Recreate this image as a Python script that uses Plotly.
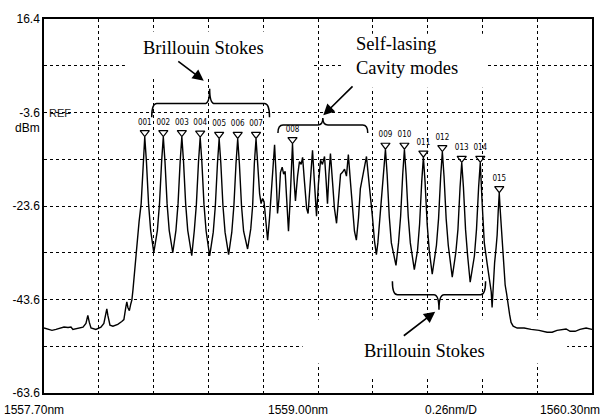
import plotly.graph_objects as go

# ---------------- data ----------------
wavelength_nm = [
    1557.700, 1557.719, 1557.738, 1557.757, 1557.776, 1557.795, 1557.814, 1557.828, 1557.837, 1557.861,
    1557.885, 1557.899, 1557.908, 1557.915, 1557.923, 1557.946, 1557.970, 1557.984, 1557.994, 1557.998,
    1558.003, 1558.013, 1558.027, 1558.050, 1558.069, 1558.079, 1558.088, 1558.093, 1558.098, 1558.105,
    1558.112, 1558.117, 1558.122, 1558.129, 1558.136, 1558.145, 1558.151, 1558.161, 1558.170, 1558.178,
    1558.186, 1558.196, 1558.206, 1558.221, 1558.238, 1558.248, 1558.258, 1558.266, 1558.274, 1558.284,
    1558.294, 1558.311, 1558.326, 1558.336, 1558.346, 1558.354, 1558.362, 1558.372, 1558.382, 1558.401,
    1558.413, 1558.423, 1558.433, 1558.441, 1558.449, 1558.459, 1558.469, 1558.486, 1558.503, 1558.513,
    1558.523, 1558.531, 1558.539, 1558.549, 1558.559, 1558.576, 1558.591, 1558.601, 1558.611, 1558.619,
    1558.627, 1558.637, 1558.647, 1558.666, 1558.681, 1558.690, 1558.698, 1558.706, 1558.714, 1558.723,
    1558.730, 1558.737, 1558.744, 1558.751, 1558.761, 1558.770, 1558.780, 1558.789, 1558.794, 1558.801,
    1558.808, 1558.815, 1558.822, 1558.830, 1558.837, 1558.844, 1558.851, 1558.860, 1558.867, 1558.875,
    1558.879, 1558.886, 1558.893, 1558.903, 1558.912, 1558.920, 1558.927, 1558.936, 1558.946, 1558.953,
    1558.962, 1558.974, 1558.983, 1558.993, 1559.002, 1559.012, 1559.021, 1559.031, 1559.038, 1559.045,
    1559.052, 1559.059, 1559.069, 1559.078, 1559.088, 1559.097, 1559.107, 1559.116, 1559.126, 1559.135,
    1559.144, 1559.154, 1559.163, 1559.173, 1559.182, 1559.192, 1559.201, 1559.211, 1559.220, 1559.230,
    1559.239, 1559.249, 1559.258, 1559.268, 1559.277, 1559.284, 1559.294, 1559.303, 1559.313, 1559.320,
    1559.328, 1559.338, 1559.348, 1559.370, 1559.382, 1559.392, 1559.402, 1559.410, 1559.418, 1559.428,
    1559.438, 1559.457, 1559.472, 1559.482, 1559.492, 1559.500, 1559.508, 1559.518, 1559.528, 1559.542,
    1559.562, 1559.572, 1559.582, 1559.590, 1559.598, 1559.608, 1559.618, 1559.637, 1559.654, 1559.664,
    1559.674, 1559.682, 1559.690, 1559.700, 1559.710, 1559.722, 1559.742, 1559.752, 1559.762, 1559.770,
    1559.779, 1559.789, 1559.803, 1559.812, 1559.822, 1559.826, 1559.831, 1559.838, 1559.845, 1559.850,
    1559.855, 1559.860, 1559.864, 1559.872, 1559.879, 1559.888, 1559.895, 1559.902, 1559.909, 1559.916,
    1559.926, 1559.945, 1559.978, 1560.011, 1560.049, 1560.087, 1560.111, 1560.134, 1560.158, 1560.177,
    1560.196, 1560.220, 1560.243, 1560.272, 1560.300,
]
power_dbm = [
    -49.7, -50.0, -50.2, -50.0, -49.7, -49.5, -49.6, -49.5, -50.0, -49.7,
    -49.5, -48.7, -47.0, -48.5, -49.7, -50.0, -49.5, -48.7, -46.2, -45.6,
    -47.0, -49.1, -49.3, -48.9, -48.3, -47.9, -45.3, -44.1, -45.3, -46.0,
    -44.5, -43.7, -41.6, -37.8, -34.6, -29.8, -27.0, -23.1, -14.1, -8.8,
    -14.1, -23.1, -28.8, -33.6, -28.8, -23.1, -14.1, -8.8, -14.1, -23.1,
    -28.8, -33.6, -28.8, -23.1, -14.1, -8.8, -14.1, -23.1, -28.8, -34.2,
    -28.9, -23.2, -14.2, -8.9, -14.2, -23.2, -28.9, -34.3, -29.2, -23.5,
    -14.5, -9.2, -14.5, -23.5, -29.2, -34.0, -29.2, -23.5, -14.5, -9.2,
    -14.5, -23.5, -29.0, -32.8, -28.5, -23.5, -14.5, -9.2, -14.7, -21.0,
    -23.1, -22.0, -22.7, -26.2, -30.9, -26.2, -18.9, -12.6, -10.5, -16.8,
    -25.2, -22.0, -16.4, -15.3, -16.8, -16.2, -22.0, -29.0, -23.1, -14.7,
    -10.3, -17.8, -22.5, -17.2, -14.1, -14.7, -13.2, -18.5, -24.1, -25.2,
    -18.9, -11.7, -18.5, -25.8, -18.9, -13.8, -14.7, -13.0, -17.8, -23.1,
    -16.8, -12.4, -18.5, -24.1, -27.3, -22.0, -16.8, -16.4, -15.7, -17.2,
    -12.6, -18.5, -24.1, -29.0, -30.9, -26.2, -19.9, -17.2, -15.1, -13.0,
    -17.2, -21.4, -25.8, -31.1, -34.0, -31.5, -26.2, -21.0, -15.7, -11.5,
    -16.8, -25.8, -31.5, -36.3, -31.5, -25.8, -16.8, -11.5, -16.8, -25.8,
    -31.5, -37.2, -33.2, -27.5, -18.5, -13.2, -18.5, -27.5, -33.2, -38.2,
    -32.0, -26.3, -17.3, -12.0, -17.3, -26.3, -32.0, -38.8, -33.5, -28.6,
    -19.6, -14.3, -19.6, -28.6, -34.3, -39.9, -34.3, -28.6, -19.6, -14.3,
    -23.1, -31.5, -36.1, -38.8, -42.0, -45.3, -40.9, -35.7, -32.5, -29.8,
    -24.8, -20.8, -24.1, -29.4, -35.3, -40.5, -42.4, -44.9, -46.8, -48.5,
    -49.3, -49.7, -49.7, -50.0, -50.2, -50.6, -50.6, -50.2, -50.0, -49.9,
    -50.4, -50.4, -50.0, -49.7, -50.0,
]

marker_labels = ["001", "002", "003", "004", "005", "006", "007", "008",
                 "009", "010", "011", "012", "013", "014", "015"]
marker_wl = [1558.178, 1558.266, 1558.354, 1558.441, 1558.531, 1558.619, 1558.706, 1558.879,
             1559.320, 1559.410, 1559.500, 1559.590, 1559.682, 1559.770, 1559.860]
marker_db = [-8.8, -8.8, -8.8, -8.9, -9.2, -9.2, -9.2, -10.3,
             -11.5, -11.5, -13.2, -12.0, -14.3, -14.3, -20.8]

x_start, x_stop, x_div = 1557.70, 1560.30, 0.26
y_top, y_bottom, y_div = 16.4, -63.6, 10.0
y_tick_text = ["16.4", "", "-3.6", "", "-23.6", "", "-43.6", "", "-63.6"]
x_label_text = ["1557.70nm", "1559.00nm", "0.26nm/D", "1560.30nm"]

# ---------------- figure ----------------
x_grid = [round(x_start + i * x_div, 3) for i in range(11)]
y_grid = [round(y_top - i * y_div, 1) for i in range(9)]

fig = go.Figure()
fig.add_trace(go.Scatter(x=wavelength_nm, y=power_dbm, mode="lines",
                         line=dict(color="black", width=1.4), hoverinfo="skip"))
tri_off = 0.9
fig.add_trace(go.Scatter(
    x=marker_wl, y=[d + tri_off for d in marker_db], mode="markers+text",
    text=marker_labels, textposition="top center",
    textfont=dict(size=8, color="black", family="DejaVu Sans Condensed, Liberation Sans Narrow, sans-serif"),
    marker=dict(symbol="triangle-down-open", size=8, color="black", line=dict(width=1.2)),
    hoverinfo="skip", cliponaxis=False))

SERIF = "Liberation Serif, Times New Roman, serif"
SANS = "Liberation Sans, Arial, sans-serif"

def brace(x0, x1, xm, y_end, y_bar, y_tip, r=0.024):
    return (f"M {x0},{y_end} Q {x0},{y_bar} {x0 + r},{y_bar} L {xm - r},{y_bar} "
            f"Q {xm},{y_bar} {xm},{y_tip} Q {xm},{y_bar} {xm + r},{y_bar} "
            f"L {x1 - r},{y_bar} Q {x1},{y_bar} {x1},{y_end}")

shapes = []
# white patches hiding the grid behind the pasted labels
for (xa, xb, ya, yb) in [(1558.084, 1558.974, 13.7, 4.2),
                         (1559.111, 1559.803, 13.25, 1.7),
                         (1558.927, 1560.182, -47.9, -57.3),
                         (1559.126, 1559.883, -47.9, -60.5)]:
    shapes.append(dict(type="rect", xref="x", yref="y", x0=xa, x1=xb, y0=ya, y1=yb,
                       fillcolor="white", line=dict(width=0), layer="between"))
for b in [(1558.211, 1558.770, 1558.486, -4.6, -1.7, 1.5),
          (1558.810, 1559.236, 1559.023, -8.0, -6.3, -4.8),
          (1559.353, 1559.795, 1559.574, -39.7, -42.6, -45.8)]:
    shapes.append(dict(type="path", xref="x", yref="y", path=brace(*b),
                       line=dict(color="black", width=1.5), layer="above"))

ann = []
# text labels
ann.append(dict(x=1558.458, y=10.1, xref="x", yref="y", text="Brillouin Stokes", showarrow=False,
                font=dict(family=SERIF, size=18.5, color="black"), xanchor="center", yanchor="middle"))
ann.append(dict(x=1559.171, y=8.5, xref="x", yref="y", text="Self-lasing<br>Cavity modes", showarrow=False,
                font=dict(family=SERIF, size=18.5, color="black"), xanchor="left", yanchor="middle",
                align="left"))
ann.append(dict(x=1559.504, y=-54.6, xref="x", yref="y", text="Brillouin Stokes", showarrow=False,
                font=dict(family=SERIF, size=18.5, color="black"), xanchor="center", yanchor="middle"))
# arrows
for (tx, ty, sx, sy) in [(1558.458, 3.2, 1558.330, 7.6),
                         (1559.025, -4.2, 1559.171, 2.3),
                         (1559.556, -46.2, 1559.400, -51.6)]:
    ann.append(dict(x=tx, y=ty, ax=sx, ay=sy, xref="x", yref="y", axref="x", ayref="y",
                    text="", showarrow=True, arrowhead=2, arrowsize=1.4, arrowwidth=1.6,
                    arrowcolor="black", standoff=0))
# instrument texts
ann.append(dict(x=0.005, y=-3.6, xref="paper", yref="y", text="REF", showarrow=False,
                font=dict(family=SANS, size=11, color="#222"), xanchor="left", yanchor="middle"))
ann.append(dict(x=-0.004, y=-6.9, xref="paper", yref="y", text="dBm", showarrow=False,
                font=dict(family=SANS, size=12, color="black"), xanchor="right", yanchor="middle"))
for txt, xp, anc in zip(x_label_text, [-0.0765, 0.521, 0.743, 1.018], ["left", "right", "center", "right"]):
    ann.append(dict(x=xp, y=0, xref="paper", yref="paper", text=txt, showarrow=False,
                    font=dict(family=SANS, size=12, color="black"), xanchor=anc, yanchor="middle",
                    yshift=-17))

fig.update_layout(
    width=606, height=420, margin=dict(l=44, r=13, t=12, b=27),
    paper_bgcolor="white", plot_bgcolor="white", showlegend=False,
    shapes=shapes, annotations=ann,
    xaxis=dict(range=[x_start, x_stop], tickvals=x_grid, showticklabels=False, ticks="",
               showgrid=True, gridcolor="black", griddash="dot", gridwidth=1,
               showline=True, linecolor="black", linewidth=1.5, mirror=True, zeroline=False),
    yaxis=dict(range=[y_bottom, y_top], tickvals=y_grid, ticktext=y_tick_text, ticks="",
               tickfont=dict(family=SANS, size=12, color="black"),
               showgrid=True, gridcolor="black", griddash="dot", gridwidth=1,
               showline=True, linecolor="black", linewidth=1.5, mirror=True, zeroline=False),
)
fig.write_html("out.html", config={"displayModeBar": False},
               post_script="document.body.style.margin='0';document.body.style.overflow='hidden';")
